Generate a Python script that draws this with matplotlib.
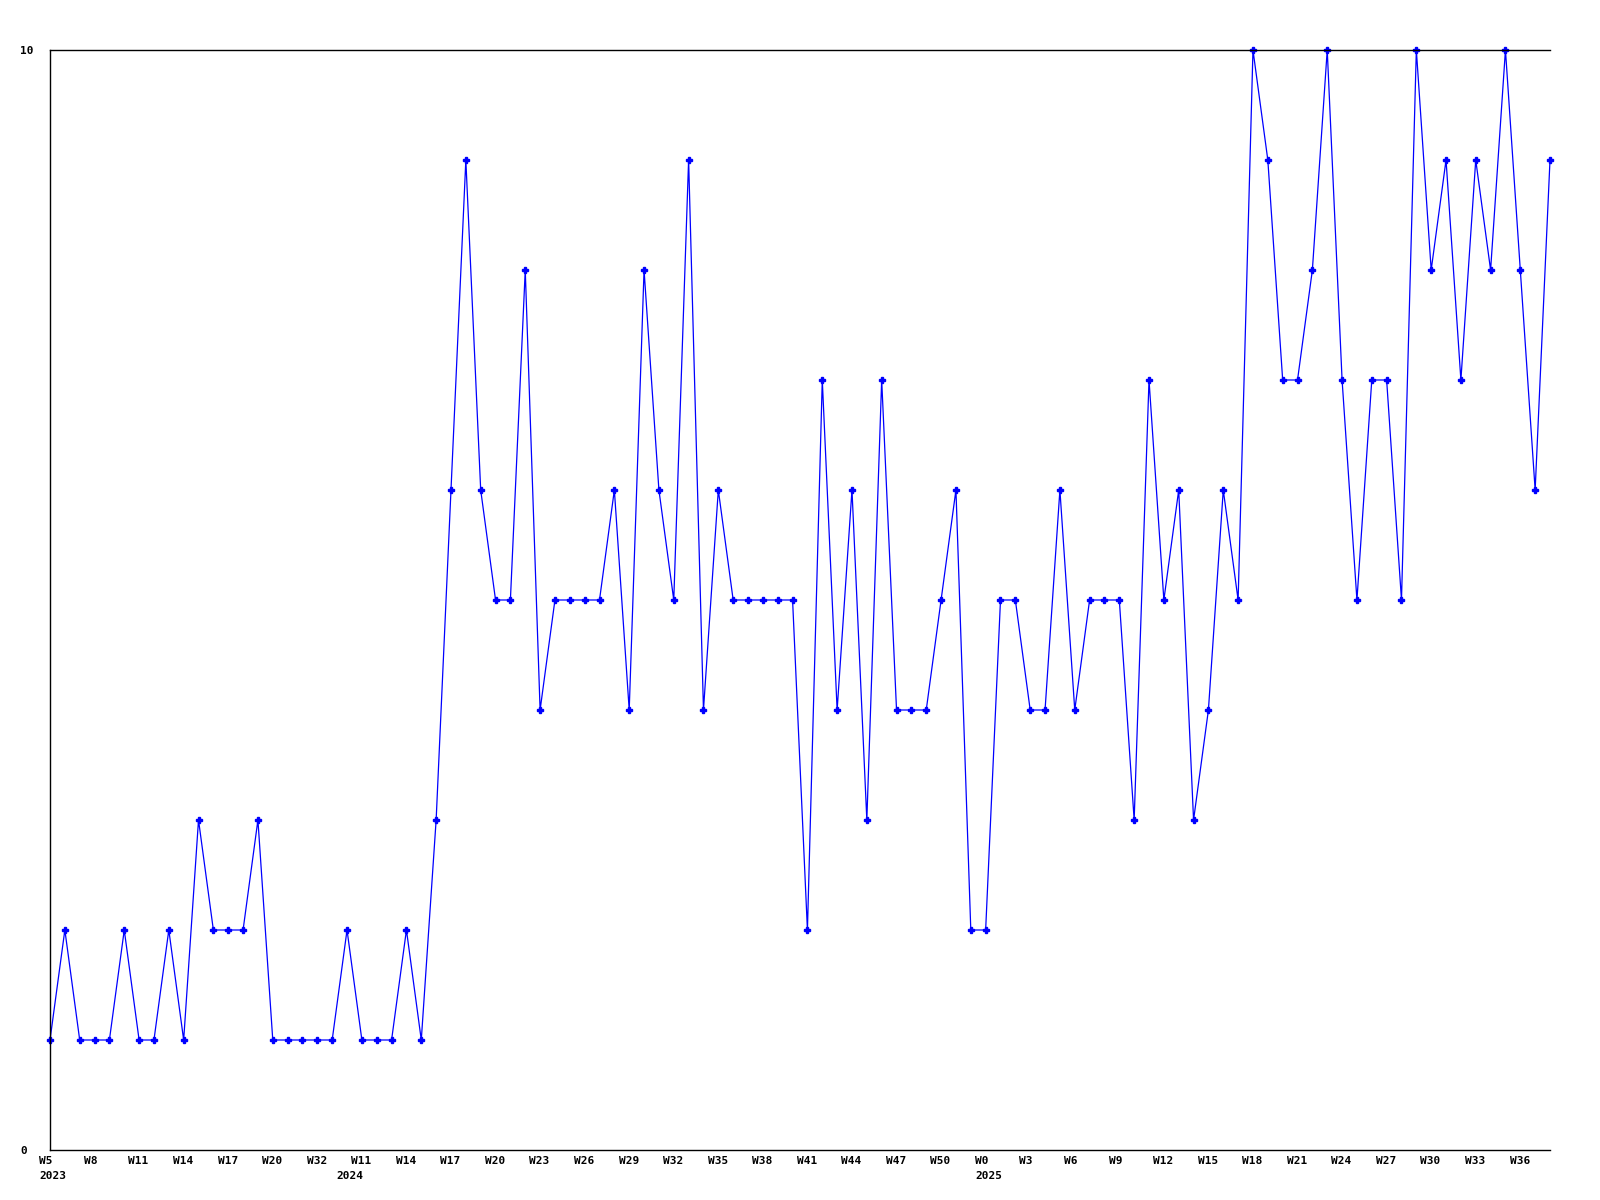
import matplotlib.pyplot as plt
import matplotlib.transforms as mtransforms

# week categories (2023 up to W33, then 2024 from W10, then 2025)
weeks_2023 = list(range(5, 23)) + [32, 33]
weeks_2024 = list(range(10, 53))
weeks_2025 = list(range(0, 39))

values = [1, 2, 1, 1, 1, 2, 1, 1, 2, 1,
          3, 2, 2, 2, 3, 1, 1, 1, 1, 1,
          2, 1, 1, 1, 2, 1, 3, 6, 9, 6,
          5, 5, 8, 4, 5, 5, 5, 5, 6, 4,
          8, 6, 5, 9, 4, 6, 5, 5, 5, 5,
          5, 2, 7, 4, 6, 3, 7, 4, 4, 4,
          5, 6, 2, 2, 5, 5, 4, 4, 6, 4,
          5, 5, 5, 3, 7, 5, 6, 3, 4, 6,
          5, 10, 9, 7, 7, 8, 10, 7, 5, 7,
          7, 5, 10, 8, 9, 7, 9, 8, 10, 8,
          6, 9]

years = [2023] * len(weeks_2023) + [2024] * len(weeks_2024) + [2025] * len(weeks_2025)
weeks = weeks_2023 + weeks_2024 + weeks_2025

# week labels every 3rd point
tick_pos = list(range(0, len(values), 3))
tick_labels = ['W%d' % weeks[i] for i in tick_pos]

# year label at the first point of each year
year_pos = [i for i in range(len(years)) if i == 0 or years[i] != years[i - 1]]

fig = plt.figure(figsize=(16, 12), dpi=100)
ax = fig.add_axes([0.03125, 0.04167, 0.9375, 0.91667])

ax.plot(range(len(values)), values, color='#0000ff', lw=0.9,
        marker='P', ms=4, clip_on=False)

ax.set_xlim(0, len(values) - 1)
ax.set_ylim(0, 10)
ax.spines['right'].set_visible(False)
for s in ['left', 'top', 'bottom']:
    ax.spines[s].set_linewidth(1.0)

mono = dict(fontfamily='DejaVu Sans Mono', fontweight='bold', fontsize=8)
ax.set_xticks(tick_pos, tick_labels, ha='left', **mono)
ax.set_yticks([0, 10], ['0', '10'], ha='left', **mono)
ax.tick_params(axis='x', length=0, pad=4)
ax.tick_params(axis='y', length=0, pad=21.6)

offset = mtransforms.ScaledTranslation(-10.7 / 100, 0, fig.dpi_scale_trans)
for lab in ax.get_xticklabels():
    lab.set_transform(lab.get_transform() + offset)

for i in year_pos:
    ax.annotate(str(years[i]), xy=(i, 0), xycoords=('data', 'axes fraction'),
                xytext=(-10.7, -21), textcoords='offset pixels',
                ha='left', va='top', annotation_clip=False, **mono)

plt.savefig('out.png', dpi=100)
